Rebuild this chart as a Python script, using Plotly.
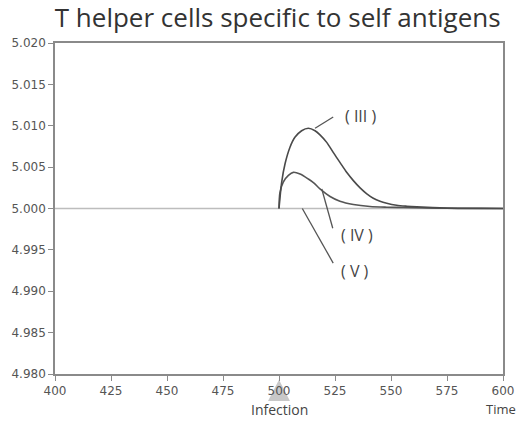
import plotly.graph_objects as go

# Data
t_iii = [500, 501.2, 502.7, 504.9, 507.1, 510.1, 513.1, 516.1, 518.3, 521.3, 524.2, 527.2, 530.2, 533.2, 536.2, 539.2, 542.1, 545.1, 548.1, 552.5, 557.0, 561.5, 575, 590, 600]
v_iii = [5.0, 5.0032, 5.0054, 5.0074, 5.0086, 5.0094, 5.0097, 5.0094, 5.0089, 5.00799, 5.00678, 5.00558, 5.00437, 5.00337, 5.00249, 5.00177, 5.00124, 5.00088, 5.00064, 5.0004, 5.00028, 5.0002, 5.00005, 5.00001, 5.0]
t_iv = [500, 500.4, 501.9, 504.2, 506.4, 509.4, 513.1, 515.5, 518.3, 522.8, 527.2, 533.2, 540.6, 548.1, 555.4, 575, 600]
v_iv = [5.0, 5.0019, 5.0032, 5.0040, 5.00437, 5.00416, 5.00356, 5.0031, 5.00237, 5.00145, 5.00088, 5.00048, 5.00024, 5.00016, 5.00012, 5.00003, 5.0]
t_v = [400, 600]
v_v = [5.0, 5.0]
x_ticks = [400, 425, 450, 475, 500, 525, 550, 575, 600]
y_ticks = [4.980, 4.985, 4.990, 4.995, 5.000, 5.005, 5.010, 5.015, 5.020]
x_range = [400, 600]
infection_time = 500

fig = go.Figure()
fig.add_trace(go.Scatter(x=t_v, y=v_v, mode="lines", line=dict(color="#bdbdbd", width=1.5), hoverinfo="skip"))
fig.add_trace(go.Scatter(x=t_iv, y=v_iv, mode="lines", line=dict(color="#555555", width=1.6, shape="spline", smoothing=0.8), hoverinfo="skip"))
fig.add_trace(go.Scatter(x=t_iii, y=v_iii, mode="lines", line=dict(color="#4a4a4a", width=1.6, shape="spline", smoothing=0.8), hoverinfo="skip"))

lab_font = dict(family="Open Sans", size=16, color="#444444")
# leader lines
for (x0, y0, x1, y1) in [(516.1, 5.0097, 524.2, 5.01106), (519.1, 5.00235, 524.0, 4.99761), (510.4, 5.0000, 524.2, 4.99340)]:
    fig.add_shape(type="line", x0=x0, y0=y0, x1=x1, y1=y1, xref="x", yref="y", line=dict(color="#555555", width=1.3))
for txt, x, y in [("( III )", 536.2, 5.01114), ("( IV )", 534.8, 4.99681), ("( V )", 533.9, 4.99239)]:
    fig.add_annotation(text=txt, x=x, y=y, xref="x", yref="y", showarrow=False, font=lab_font)

# infection marker triangle (paper coordinates so it is not clipped)
px = (infection_time - x_range[0]) / (x_range[1] - x_range[0])
fig.add_shape(type="path", xref="paper", yref="paper",
              path=f"M {px-0.0245} -0.0815 L {px} -0.0175 L {px+0.0245} -0.0815 Z",
              fillcolor="#c8c8c8", line=dict(width=0), layer="below")
fig.add_annotation(text="Infection", x=px, y=-0.108, xref="paper", yref="paper", showarrow=False,
                   font=dict(family="Open Sans", size=14, color="#444444"), yanchor="middle")
fig.add_annotation(text="Time", x=1.0, y=-0.105, xref="paper", yref="paper", showarrow=False, xanchor="left",
                   xshift=-19, font=dict(family="Open Sans", size=13, color="#444444"), yanchor="middle")

axis_common = dict(showline=True, linecolor="#8a8a8a", linewidth=1.5, mirror=True, ticks="outside",
                   ticklen=5, tickcolor="#8a8a8a", showgrid=False, zeroline=False,
                   tickfont=dict(family="DejaVu Sans", size=12, color="#555555"))
fig.update_xaxes(range=x_range, tickvals=x_ticks, ticktext=[str(v) for v in x_ticks], **axis_common)
fig.update_yaxes(range=[4.980, 5.020], tickvals=y_ticks, ticktext=[f"{v:.3f}" for v in y_ticks], **axis_common)

fig.update_layout(
    width=520, height=421, showlegend=False,
    margin=dict(l=55, r=17, t=43, b=47, autoexpand=False),
    paper_bgcolor="white", plot_bgcolor="white",
    title=dict(text="T helper cells specific to self antigens", x=0.534, xanchor="center",
               y=0.957, yanchor="middle", xref="container",
               font=dict(family="Open Sans", size=26, color="#333333")),
)
fig.write_html("out.html")
